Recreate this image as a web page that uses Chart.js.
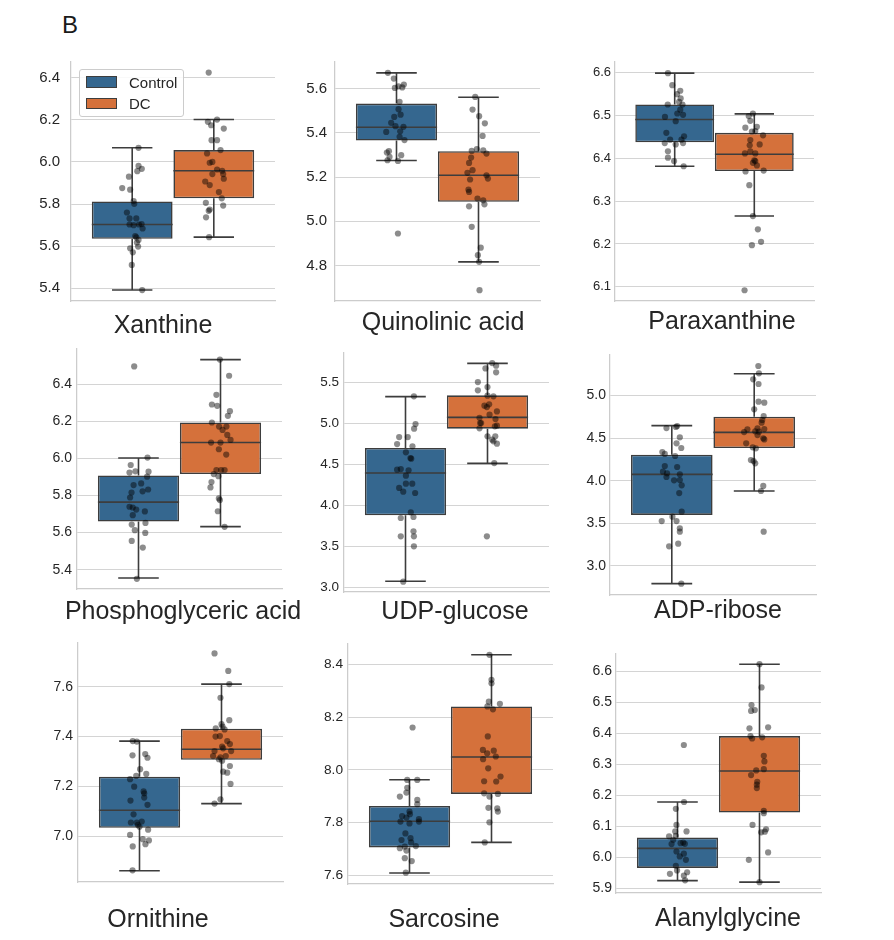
<!DOCTYPE html>
<html>
<head>
<meta charset="utf-8">
<script src="https://cdn.jsdelivr.net/npm/chart.js@4.4.0/dist/chart.umd.min.js"></script>
<style>
  body { margin: 0; background: #fff; font-family: "Liberation Sans", Arial, Helvetica, sans-serif; }
  #page { position: relative; width: 894px; height: 940px; overflow: hidden; }
  #page canvas { position: absolute; }
  .ttl { position: absolute; font-size: 25px; line-height: 25px; color: #262626; white-space: nowrap; transform: translateX(-50%); }
  #letter { position: absolute; left: 62px; top: 13px; font-size: 24px; line-height: 24px; color: #1a1a1a; }
  #legend { position: absolute; left: 79px; top: 69px; width: 103px; height: 46px; border: 1px solid #cccccc; border-radius: 3px; background: rgba(255,255,255,0.85); z-index: 5; }
  .patch { position: absolute; left: 6px; width: 29px; height: 9.5px; border: 1px solid #3d3d3d; }
  .ltxt { position: absolute; left: 49px; font-size: 15px; line-height: 15px; color: #262626; }
</style>
</head>
<body>
<div id="page">
  <div id="letter">B</div>
  <div id="legend">
    <div class="patch" style="top:6px;background:#35678f"></div>
    <div class="ltxt" style="top:4.5px">Control</div>
    <div class="patch" style="top:27.5px;background:#d5713b"></div>
    <div class="ltxt" style="top:25.8px">DC</div>
  </div>
</div>
<script>
// Données
const groups = ['Control', 'DC'];
const metabolites = ['Xanthine', 'Quinolinic acid', 'Paraxanthine', 'Phosphoglyceric acid', 'UDP-glucose', 'ADP-ribose', 'Ornithine', 'Sarcosine', 'Alanylglycine'];

// graduations et bornes de l'axe y
const xanthineTicks = [5.4, 5.6, 5.8, 6.0, 6.2, 6.4];
const quinolinicTicks = [4.8, 5.0, 5.2, 5.4, 5.6];
const paraxanthineTicks = [6.1, 6.2, 6.3, 6.4, 6.5, 6.6];
const phosphoTicks = [5.4, 5.6, 5.8, 6.0, 6.2, 6.4];
const udpTicks = [3.0, 3.5, 4.0, 4.5, 5.0, 5.5];
const adpTicks = [3.0, 3.5, 4.0, 4.5, 5.0];
const ornithineTicks = [7.0, 7.2, 7.4, 7.6];
const sarcosineTicks = [7.6, 7.8, 8.0, 8.2, 8.4];
const alanylTicks = [5.9, 6.0, 6.1, 6.2, 6.3, 6.4, 6.5, 6.6];

const xanthineRange = [5.340, 6.474];
const quinolinicRange = [4.640, 5.720];
const paraxanthineRange = [6.067, 6.624];
const phosphoRange = [5.296, 6.589];
const udpRange = [2.947, 5.853];
const adpRange = [2.660, 5.473];
const ornithineRange = [6.816, 7.776];
const sarcosineRange = [7.567, 8.478];
const alanylRange = [5.884, 6.656];

// boîtes : [moustache basse, Q1, médiane, Q3, moustache haute] pour Control puis DC
const xanthineBoxes = [[5.392, 5.635, 5.703, 5.812, 6.067], [5.643, 5.827, 5.958, 6.056, 6.201]];
const quinolinicBoxes = [[5.275, 5.365, 5.425, 5.532, 5.671], [4.817, 5.088, 5.208, 5.317, 5.561]];
const paraxanthineBoxes = [[6.381, 6.437, 6.490, 6.525, 6.598], [6.265, 6.370, 6.409, 6.459, 6.503]];
const phosphoBoxes = [[5.355, 5.659, 5.764, 5.908, 6.002], [5.632, 5.915, 6.085, 6.193, 6.532]];
const udpBoxes = [[3.077, 3.879, 4.394, 4.698, 5.322], [4.511, 4.933, 5.070, 5.338, 5.727]];
const adpBoxes = [[2.793, 3.598, 4.074, 4.305, 4.645], [3.879, 4.383, 4.566, 4.750, 5.254]];
const ornithineBoxes = [[6.861, 7.034, 7.104, 7.239, 7.382], [7.131, 7.307, 7.349, 7.432, 7.611]];
const sarcosineBoxes = [[7.609, 7.706, 7.805, 7.863, 7.963], [7.725, 7.909, 8.049, 8.241, 8.437]];
const alanylBoxes = [[5.924, 5.965, 6.028, 6.063, 6.178], [5.919, 6.144, 6.278, 6.391, 6.623]];

// points individuels : [décalage horizontal lu, valeur]
const xanthineControl = [[0.031,6.067],[0.031,5.981],[0.025,5.956],[0.047,5.967],[-0.016,5.930],[-0.049,5.876],[-0.010,5.868],[0.007,5.814],[0.010,5.801],[-0.026,5.760],[-0.013,5.732],[0.020,5.732],[-0.013,5.703],[0.007,5.700],[0.033,5.703],[0.046,5.705],[0.051,5.684],[0.015,5.648],[0.020,5.642],[0.031,5.630],[0.023,5.617],[0.029,5.598],[-0.010,5.590],[0.003,5.571],[-0.002,5.511],[0.049,5.392]];
const xanthineDC = [[-0.025,6.424],[0.016,6.201],[-0.029,6.190],[-0.013,6.174],[0.049,6.158],[-0.011,6.103],[0.016,6.103],[0.033,6.056],[-0.033,6.040],[-0.020,5.996],[-0.007,6.000],[0.016,5.964],[0.041,5.958],[-0.007,5.942],[0.046,5.942],[0.049,5.920],[-0.042,5.907],[-0.020,5.890],[0.025,5.857],[0.039,5.827],[-0.039,5.806],[0.046,5.793],[-0.020,5.774],[-0.025,5.768],[-0.038,5.737],[-0.023,5.643]];
const quinolinicControl = [[-0.042,5.671],[-0.013,5.645],[-0.008,5.603],[0.010,5.610],[0.036,5.618],[0.028,5.605],[0.015,5.540],[0.010,5.507],[0.020,5.482],[-0.011,5.472],[-0.026,5.445],[-0.005,5.430],[0.034,5.427],[-0.050,5.404],[0.018,5.407],[0.015,5.382],[0.039,5.367],[-0.037,5.317],[-0.047,5.311],[-0.034,5.291],[0.023,5.299],[-0.044,5.276],[0.007,5.273],[0.007,4.945]];
const quinolinicDC = [[-0.016,5.562],[-0.029,5.505],[0.003,5.475],[0.031,5.443],[0.020,5.386],[-0.008,5.326],[-0.033,5.318],[0.023,5.321],[0.039,5.306],[-0.036,5.288],[-0.046,5.264],[-0.029,5.231],[-0.054,5.219],[0.039,5.208],[0.046,5.193],[-0.041,5.189],[-0.049,5.143],[-0.046,5.133],[-0.005,5.103],[0.023,5.095],[0.029,5.077],[-0.046,5.068],[-0.033,4.975],[0.011,4.881],[-0.003,4.847],[0.003,4.817],[0.005,4.689]];
const paraxanthineControl = [[-0.034,6.598],[-0.012,6.570],[0.012,6.549],[0.028,6.557],[0.030,6.539],[0.022,6.531],[0.039,6.525],[-0.035,6.525],[0.028,6.513],[0.013,6.504],[0.042,6.501],[-0.049,6.496],[0.005,6.486],[-0.042,6.459],[0.047,6.451],[0.034,6.443],[-0.023,6.443],[-0.050,6.435],[0.005,6.432],[0.042,6.435],[-0.034,6.416],[-0.034,6.401],[-0.003,6.393],[0.045,6.381]];
const paraxanthineDC = [[-0.007,6.504],[-0.028,6.498],[-0.020,6.487],[-0.045,6.471],[0.013,6.473],[-0.012,6.462],[0.005,6.463],[0.044,6.453],[-0.020,6.442],[0.027,6.432],[-0.023,6.430],[-0.047,6.411],[0.005,6.411],[-0.020,6.416],[0.000,6.395],[-0.007,6.389],[0.005,6.393],[0.013,6.383],[0.047,6.371],[-0.044,6.369],[-0.025,6.337],[-0.007,6.265],[0.018,6.234],[0.034,6.205],[-0.012,6.197],[-0.049,6.092]];
const phosphoControl = [[-0.021,6.495],[0.044,6.004],[-0.038,5.964],[-0.044,5.923],[-0.015,5.930],[0.049,5.928],[0.042,5.901],[-0.024,5.856],[0.013,5.865],[-0.034,5.816],[0.020,5.822],[0.047,5.832],[-0.041,5.789],[-0.044,5.739],[-0.028,5.735],[-0.011,5.724],[-0.028,5.694],[0.031,5.714],[-0.033,5.643],[0.034,5.652],[-0.018,5.613],[0.033,5.598],[-0.033,5.555],[0.021,5.519],[-0.008,5.351]];
const phosphoDC = [[-0.003,6.532],[0.042,6.445],[-0.020,6.342],[-0.042,6.290],[-0.016,6.283],[0.046,6.254],[0.036,6.229],[-0.042,6.193],[-0.007,6.171],[0.010,6.153],[0.029,6.171],[0.033,6.126],[-0.046,6.085],[0.000,6.085],[0.049,6.099],[-0.008,6.049],[0.028,6.020],[-0.020,5.937],[0.003,5.937],[0.020,5.937],[-0.033,5.915],[-0.010,5.904],[-0.044,5.872],[-0.049,5.843],[-0.008,5.784],[-0.003,5.775],[-0.013,5.715],[0.020,5.631]];
const udpControl = [[0.041,5.326],[0.049,4.989],[0.042,4.933],[-0.031,4.831],[0.011,4.831],[-0.041,4.746],[0.034,4.718],[0.002,4.645],[0.028,4.568],[0.024,4.576],[-0.041,4.434],[-0.023,4.442],[0.015,4.426],[0.002,4.361],[0.002,4.264],[0.033,4.264],[0.047,4.151],[-0.031,4.212],[-0.011,4.167],[0.026,3.916],[-0.023,3.847],[0.039,3.859],[-0.023,3.624],[0.039,3.685],[0.041,3.624],[0.041,3.502],[-0.011,3.073]];
const udpDC = [[0.023,5.731],[0.042,5.699],[-0.010,5.666],[0.042,5.618],[-0.047,5.500],[-0.047,5.399],[0.000,5.439],[0.000,5.334],[0.029,5.326],[-0.015,5.212],[-0.003,5.196],[0.008,5.229],[0.046,5.143],[0.010,5.103],[-0.039,5.066],[-0.036,5.002],[-0.031,5.002],[0.039,5.050],[0.036,4.961],[0.046,4.969],[-0.039,4.937],[0.000,4.840],[0.038,4.840],[0.023,4.799],[0.029,4.779],[0.046,4.750],[0.033,4.515],[-0.003,3.624]];
const adpControl = [[-0.026,4.617],[0.020,4.629],[0.026,4.641],[0.039,4.508],[0.023,4.438],[0.046,4.383],[-0.046,4.336],[-0.034,4.313],[0.016,4.289],[-0.034,4.172],[0.026,4.160],[-0.043,4.105],[-0.023,4.086],[-0.026,4.043],[0.039,4.074],[0.011,4.004],[0.039,4.008],[0.048,3.945],[0.036,3.855],[0.048,3.637],[0.003,3.578],[-0.049,3.527],[0.023,3.527],[0.039,3.441],[0.039,3.402],[0.031,3.262],[-0.013,3.230],[0.046,2.793]];
const adpDC = [[0.020,5.344],[0.023,5.258],[-0.005,5.188],[0.021,5.133],[0.021,4.926],[0.049,4.914],[0.000,4.836],[0.046,4.758],[0.039,4.711],[0.036,4.680],[-0.033,4.602],[0.016,4.613],[0.049,4.605],[-0.049,4.570],[0.005,4.578],[0.023,4.574],[0.016,4.535],[0.044,4.496],[0.049,4.484],[-0.039,4.438],[-0.007,4.391],[0.008,4.379],[-0.016,4.242],[-0.003,4.230],[0.005,4.203],[0.044,3.938],[0.033,3.879],[0.046,3.402]];
const ornithineControl = [[-0.033,7.382],[-0.013,7.380],[-0.034,7.325],[0.028,7.330],[0.039,7.315],[0.003,7.269],[-0.016,7.242],[0.033,7.250],[-0.046,7.229],[-0.026,7.199],[0.020,7.180],[0.023,7.172],[0.023,7.155],[0.039,7.126],[-0.044,7.143],[-0.029,7.088],[-0.042,7.055],[-0.013,7.055],[0.011,7.059],[-0.008,7.046],[0.000,7.038],[0.042,7.026],[-0.046,7.005],[0.016,6.988],[0.046,6.983],[0.029,6.968],[-0.033,6.959],[-0.034,6.863]];
const ornithineDC = [[-0.034,7.734],[0.033,7.664],[0.038,7.611],[-0.005,7.556],[0.038,7.466],[0.000,7.450],[0.005,7.440],[-0.028,7.433],[0.015,7.429],[-0.008,7.402],[-0.029,7.400],[0.028,7.382],[0.041,7.370],[0.003,7.360],[0.008,7.353],[0.047,7.342],[-0.034,7.342],[-0.041,7.322],[-0.005,7.317],[0.021,7.322],[-0.013,7.309],[0.003,7.303],[0.041,7.282],[0.008,7.259],[0.028,7.255],[0.044,7.210],[-0.005,7.148],[-0.034,7.131]];
const sarcosineControl = [[0.015,8.161],[-0.011,7.962],[0.038,7.962],[-0.011,7.932],[-0.015,7.914],[-0.047,7.899],[0.038,7.886],[0.038,7.870],[0.000,7.842],[0.002,7.832],[-0.036,7.825],[-0.015,7.819],[0.046,7.813],[0.046,7.804],[-0.044,7.804],[0.000,7.797],[-0.020,7.759],[-0.039,7.734],[0.005,7.741],[0.008,7.725],[-0.047,7.703],[-0.023,7.709],[0.031,7.711],[-0.015,7.694],[-0.023,7.665],[0.011,7.654],[-0.018,7.610]];
const sarcosineDC = [[-0.010,8.437],[0.000,8.342],[0.000,8.329],[-0.013,8.259],[0.041,8.251],[-0.020,8.241],[0.007,8.230],[-0.018,8.127],[-0.042,8.076],[0.011,8.073],[-0.021,8.063],[-0.041,8.041],[0.021,8.051],[-0.016,8.006],[0.044,7.975],[-0.036,7.957],[0.023,7.956],[-0.036,7.911],[0.031,7.909],[-0.010,7.899],[-0.015,7.856],[0.028,7.854],[0.031,7.842],[-0.010,7.801],[-0.033,7.725]];
const alanylControl = [[0.031,6.362],[0.032,6.178],[-0.008,6.156],[-0.005,6.104],[-0.011,6.083],[0.044,6.083],[-0.008,6.069],[-0.041,6.067],[-0.021,6.056],[0.028,6.047],[-0.029,6.042],[0.015,6.045],[0.036,6.043],[-0.005,6.018],[0.031,6.011],[0.011,6.002],[0.041,5.991],[-0.008,5.972],[-0.002,5.957],[0.047,5.951],[-0.037,5.946],[0.031,5.940],[0.037,5.925]];
const alanylDC = [[0.000,6.623],[0.010,6.548],[-0.039,6.491],[-0.041,6.472],[-0.023,6.475],[-0.049,6.416],[0.042,6.419],[-0.044,6.391],[-0.036,6.383],[0.013,6.387],[0.021,6.327],[0.024,6.309],[0.021,6.284],[-0.016,6.280],[-0.041,6.265],[-0.011,6.243],[-0.013,6.234],[-0.013,6.223],[0.021,6.149],[0.021,6.142],[-0.034,6.104],[0.032,6.090],[0.008,6.080],[0.026,6.082],[0.042,6.015],[-0.052,5.991],[0.000,5.919]];

const panels = [
  { ticks: xanthineTicks, range: xanthineRange, boxes: xanthineBoxes, points: [xanthineControl, xanthineDC] },
  { ticks: quinolinicTicks, range: quinolinicRange, boxes: quinolinicBoxes, points: [quinolinicControl, quinolinicDC] },
  { ticks: paraxanthineTicks, range: paraxanthineRange, boxes: paraxanthineBoxes, points: [paraxanthineControl, paraxanthineDC] },
  { ticks: phosphoTicks, range: phosphoRange, boxes: phosphoBoxes, points: [phosphoControl, phosphoDC] },
  { ticks: udpTicks, range: udpRange, boxes: udpBoxes, points: [udpControl, udpDC] },
  { ticks: adpTicks, range: adpRange, boxes: adpBoxes, points: [adpControl, adpDC] },
  { ticks: ornithineTicks, range: ornithineRange, boxes: ornithineBoxes, points: [ornithineControl, ornithineDC] },
  { ticks: sarcosineTicks, range: sarcosineRange, boxes: sarcosineBoxes, points: [sarcosineControl, sarcosineDC] },
  { ticks: alanylTicks, range: alanylRange, boxes: alanylBoxes, points: [alanylControl, alanylDC] }
];

// Mise en page (zone de tracé en px, police des graduations, titre)
const layout = [
  { l: 71, t: 62, r: 275, b: 301, font: 15, pad: 11, tx: 163, ty: 312 },
  { l: 335, t: 62, r: 540, b: 301, font: 15, pad: 8, tx: 443, ty: 309 },
  { l: 615, t: 62, r: 814, b: 301, font: 13, pad: 4, tx: 722, ty: 308 },
  { l: 77, t: 349, r: 282, b: 589, font: 14, pad: 5, tx: 183, ty: 598 },
  { l: 344, t: 353, r: 549, b: 592, font: 13.5, pad: 5, tx: 455, ty: 598 },
  { l: 610, t: 355, r: 816, b: 595, font: 14, pad: 4, tx: 718, ty: 597 },
  { l: 78, t: 643, r: 283, b: 882, font: 14, pad: 5, tx: 158, ty: 906 },
  { l: 348, t: 644, r: 553, b: 884, font: 13.7, pad: 5, tx: 444, ty: 906 },
  { l: 616, t: 654, r: 821, b: 893, font: 14, pad: 4, tx: 728, ty: 905 }
];

const groupOffsets = [-0.2, 0.2];
const boxColors = ['#35678f', '#d5713b'];
const edgeColor = '#3d3d3d';
const halfBox = 0.198;
const halfCap = 0.099;

Chart.defaults.font.family = '"Liberation Sans", Arial, Helvetica, sans-serif';

const page = document.getElementById('page');

function buildPanel(d, p, name) {
  const yw = 60, pt = 30, pr = 10, pb = 30;
  const w = p.r - p.l + yw + pr;
  const h = p.b - p.t + pt + pb;
  const cv = document.createElement('canvas');
  cv.width = w;
  cv.height = h;
  cv.style.left = (p.l - yw) + 'px';
  cv.style.top = (p.t - pt) + 'px';
  cv.style.width = w + 'px';
  cv.style.height = h + 'px';
  page.appendChild(cv);

  // moustaches, traits de fin et médianes
  const lines = [];
  d.boxes.forEach((b, g) => {
    const c = groupOffsets[g];
    lines.push(
      { x: c, y: b[3] }, { x: c, y: b[4] }, { x: c, y: null },
      { x: c - halfCap, y: b[4] }, { x: c + halfCap, y: b[4] }, { x: c, y: null },
      { x: c, y: b[1] }, { x: c, y: b[0] }, { x: c, y: null },
      { x: c - halfCap, y: b[0] }, { x: c + halfCap, y: b[0] }, { x: c, y: null },
      { x: c - halfBox, y: b[2] }, { x: c + halfBox, y: b[2] }, { x: c, y: null }
    );
  });

  const dots = [];
  d.points.forEach((pts, g) => {
    pts.forEach(([dx, y]) => dots.push({ x: groupOffsets[g] + dx, y: y }));
  });

  new Chart(cv.getContext('2d'), {
    type: 'bar',
    data: {
      datasets: [
        {
          type: 'scatter',
          data: dots,
          backgroundColor: 'rgba(0,0,0,0.45)',
          pointRadius: 3.1,
          pointBorderWidth: 0,
          order: 0
        },
        {
          type: 'line',
          data: lines,
          borderColor: edgeColor,
          borderWidth: 1.6,
          pointRadius: 0,
          fill: false,
          spanGaps: false,
          tension: 0,
          order: 1
        },
        {
          type: 'bar',
          data: groups.map((g, i) => ({ x: groupOffsets[i], y: [d.boxes[i][1], d.boxes[i][3]] })),
          backgroundColor: boxColors,
          borderColor: edgeColor,
          borderWidth: 1.6,
          borderSkipped: false,
          barPercentage: 0.99,
          categoryPercentage: 1,
          order: 2
        }
      ]
    },
    options: {
      responsive: false,
      animation: false,
      events: [],
      layout: { padding: { left: 0, top: pt, right: pr, bottom: pb } },
      plugins: { legend: { display: false }, tooltip: { enabled: false } },
      scales: {
        x: {
          type: 'linear',
          min: -0.5,
          max: 0.5,
          offset: false,
          grid: { display: false, drawTicks: false },
          border: { display: true, color: '#cccccc', width: 1.25 },
          ticks: { display: false },
          afterBuildTicks: s => { s.ticks = [{ value: 0 }]; },
          afterFit: s => { s.height = 0; }
        },
        y: {
          type: 'linear',
          min: d.range[0],
          max: d.range[1],
          grid: { color: '#d4d4d4', lineWidth: 1, drawTicks: false },
          border: { display: true, color: '#cccccc', width: 1.25 },
          ticks: {
            autoSkip: false,
            color: '#262626',
            padding: p.pad,
            font: { size: p.font },
            callback: v => Number(v).toFixed(1)
          },
          afterBuildTicks: s => { s.ticks = d.ticks.map(v => ({ value: v })); },
          afterFit: s => { s.width = yw; }
        }
      }
    }
  });

  const t = document.createElement('div');
  t.className = 'ttl';
  t.textContent = name;
  t.style.left = p.tx + 'px';
  t.style.top = p.ty + 'px';
  page.appendChild(t);
}

panels.forEach((d, i) => buildPanel(d, layout[i], metabolites[i]));
</script>
</body>
</html>
